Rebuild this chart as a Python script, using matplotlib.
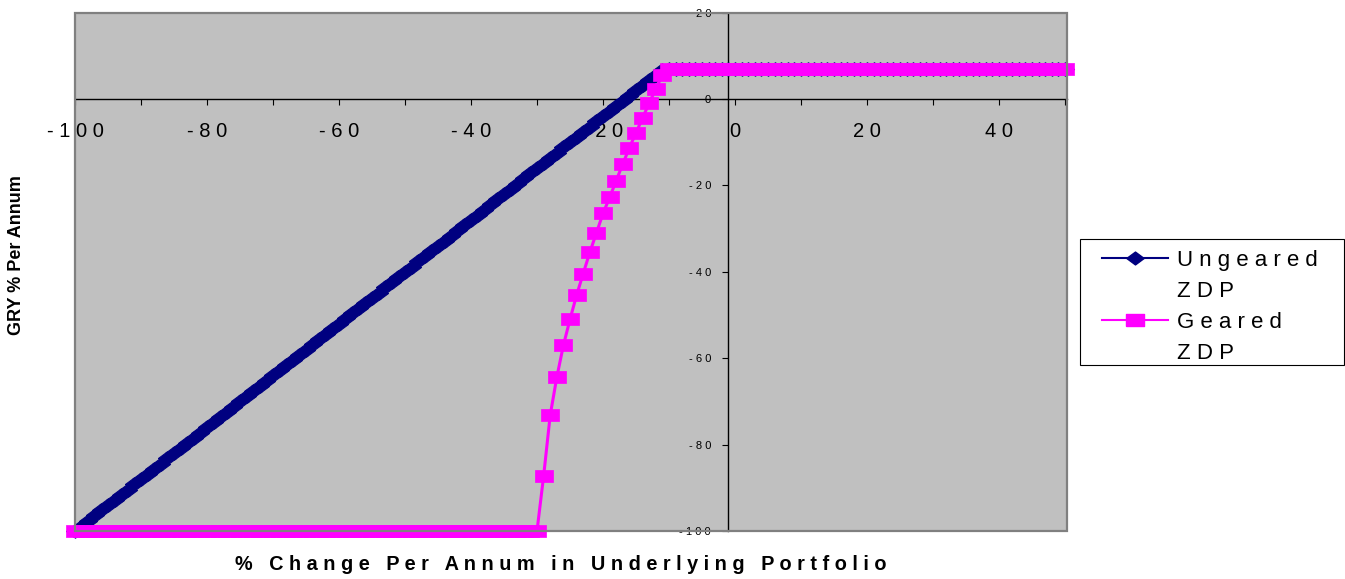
import numpy as np
import matplotlib
matplotlib.use('Agg')
import matplotlib.pyplot as plt
from matplotlib.lines import Line2D
from matplotlib.patches import Rectangle

plt.rcParams['font.family'] = ['Liberation Sans', 'DejaVu Sans']

# categories: % change per annum in the underlying portfolio
pct_change = list(range(-100, 51))

# GRY % per annum
ungeared = [
    -100.0, -98.8, -97.6, -96.4, -95.2, -94.0, -92.8, -91.6, -90.4, -89.2,
    -88.0, -86.8, -85.6, -84.4, -83.2, -82.0, -80.8, -79.6, -78.4, -77.2,
    -76.0, -74.8, -73.6, -72.4, -71.2, -70.0, -68.8, -67.6, -66.4, -65.2,
    -64.0, -62.8, -61.6, -60.4, -59.2, -58.0, -56.8, -55.6, -54.4, -53.2,
    -52.0, -50.8, -49.6, -48.4, -47.2, -46.0, -44.8, -43.6, -42.4, -41.2,
    -40.0, -38.8, -37.6, -36.4, -35.2, -34.0, -32.8, -31.6, -30.4, -29.2,
    -28.0, -26.8, -25.6, -24.4, -23.2, -22.0, -20.8, -19.6, -18.4, -17.2,
    -16.0, -14.8, -13.6, -12.4, -11.2, -10.0, -8.8, -7.6, -6.4, -5.2,
    -4.0, -2.8, -1.6, -0.4, 0.8, 2.0, 3.2, 4.4, 5.6, 6.8,
    7.0, 7.0, 7.0, 7.0, 7.0, 7.0, 7.0, 7.0, 7.0, 7.0,
    7.0, 7.0, 7.0, 7.0, 7.0, 7.0, 7.0, 7.0, 7.0, 7.0,
    7.0, 7.0, 7.0, 7.0, 7.0, 7.0, 7.0, 7.0, 7.0, 7.0,
    7.0, 7.0, 7.0, 7.0, 7.0, 7.0, 7.0, 7.0, 7.0, 7.0,
    7.0, 7.0, 7.0, 7.0, 7.0, 7.0, 7.0, 7.0, 7.0, 7.0,
    7.0, 7.0, 7.0, 7.0, 7.0, 7.0, 7.0, 7.0, 7.0, 7.0,
    7.0,
]

geared = [
    -100, -100, -100, -100, -100, -100, -100, -100, -100, -100,
    -100, -100, -100, -100, -100, -100, -100, -100, -100, -100,
    -100, -100, -100, -100, -100, -100, -100, -100, -100, -100,
    -100, -100, -100, -100, -100, -100, -100, -100, -100, -100,
    -100, -100, -100, -100, -100, -100, -100, -100, -100, -100,
    -100, -100, -100, -100, -100, -100, -100, -100, -100, -100,
    -100, -100, -100, -100, -100, -100, -100, -100, -100, -100,
    -100,
    -87.3, -73.2, -64.4, -57.0, -51.0, -45.4, -40.4, -35.5, -31.0, -26.5,
    -22.8, -18.9, -15.0, -11.3, -7.8, -4.4, -0.9, 2.3, 5.6,
    7.0, 7.0, 7.0, 7.0, 7.0, 7.0, 7.0, 7.0, 7.0, 7.0,
    7.0, 7.0, 7.0, 7.0, 7.0, 7.0, 7.0, 7.0, 7.0, 7.0,
    7.0, 7.0, 7.0, 7.0, 7.0, 7.0, 7.0, 7.0, 7.0, 7.0,
    7.0, 7.0, 7.0, 7.0, 7.0, 7.0, 7.0, 7.0, 7.0, 7.0,
    7.0, 7.0, 7.0, 7.0, 7.0, 7.0, 7.0, 7.0, 7.0, 7.0,
    7.0, 7.0, 7.0, 7.0, 7.0, 7.0, 7.0, 7.0, 7.0, 7.0,
    7.0,
]

x_ticks = list(range(-100, 51, 10))
x_labelled = list(range(-100, 41, 20))
y_ticks = list(range(-100, 21, 20))

NAVY = '#000080'
PINK = '#FF00FF'


def spaced(s):
    # old Excel export spreads the letters out
    return ' '.join(str(s))


W, H = 1345, 579
fig = plt.figure(figsize=(W / 100, H / 100), dpi=100)
ax = fig.add_axes([75 / W, 1 - 531 / H, (1067 - 75) / W, (531 - 12.6) / H])
ax.set_facecolor('#C0C0C0')
ax.set_xlim(-100, 50.3)
ax.set_ylim(-100, 20)

# stretched markers like in the original
rect = [(-1.4, -1), (1.4, -1), (1.4, 1), (-1.4, 1), (-1.4, -1)]
diamond = [(-1.35, 0), (0, 1), (1.35, 0), (0, -1), (-1.35, 0)]

ax.plot(pct_change, ungeared, color=NAVY, lw=2.5, marker=diamond, ms=13,
        mec=NAVY, mfc=NAVY, mew=0.8, clip_on=False, zorder=3)
ax.plot(pct_change, geared, color=PINK, lw=2.2, marker=rect, ms=12.5,
        mec=PINK, mfc=PINK, mew=0.5, clip_on=False, zorder=4)

# axes cross at the origin, gray frame around plot area
for side in ['top', 'right']:
    ax.spines[side].set_visible(False)
ax.spines['bottom'].set_position(('data', 0))
ax.spines['left'].set_position(('data', -1))
ax.spines['bottom'].set_linewidth(1.0)
ax.spines['left'].set_linewidth(1.0)
ax.add_patch(Rectangle((0, 0), 1, 1, transform=ax.transAxes, fill=False,
                       edgecolor='#808080', lw=1.6, clip_on=False, zorder=5))

ax.set_xticks(x_ticks)
ax.set_xticklabels([spaced(v) if v in x_labelled else '' for v in x_ticks])
ax.set_yticks(y_ticks)
ax.set_yticklabels([spaced(v) for v in y_ticks])
ax.tick_params(axis='x', direction='out', length=4.5, width=0.8, pad=12,
               labelsize=14.5)
ax.tick_params(axis='y', direction='out', length=4.5, width=0.8, pad=8,
               labelsize=8)

fig.text(17 / W, 1 - 255 / H, 'GRY % Per Annum', rotation=90, ha='center',
         va='center', fontsize=13, fontweight='bold')
fig.text(561 / W, 1 - 564 / H, spaced('% Change Per Annum in Underlying Portfolio'),
         ha='center', va='center', fontsize=14.3, fontweight='bold')

# legend box drawn by hand so the handle sits on the first text line
fig.add_artist(Rectangle((1080 / W, 1 - 365 / H), (1344 - 1080) / W,
                         (365 - 239) / H, transform=fig.transFigure,
                         fill=False, edgecolor='black', lw=0.8))
entries = [(NAVY, diamond, 1.5, 'Ungeared', 258),
           (PINK, rect, 1.5, 'Geared', 320)]
for col, mk, lw, name, yc in entries:
    fig.add_artist(Line2D([1102 / W, 1168 / W], [1 - yc / H, 1 - yc / H],
                          transform=fig.transFigure, color=col, lw=lw))
    fig.add_artist(Line2D([1135 / W], [1 - yc / H], transform=fig.transFigure,
                          color=col, marker=mk, ms=12.5, mec=col, mfc=col))
    fig.text(1177 / W, 1 - (yc + 8) / H, spaced(name), fontsize=16,
             va='baseline')
    fig.text(1177 / W, 1 - (yc + 39) / H, spaced('ZDP'), fontsize=16,
             va='baseline')

fig.savefig('out.png', dpi=100)
